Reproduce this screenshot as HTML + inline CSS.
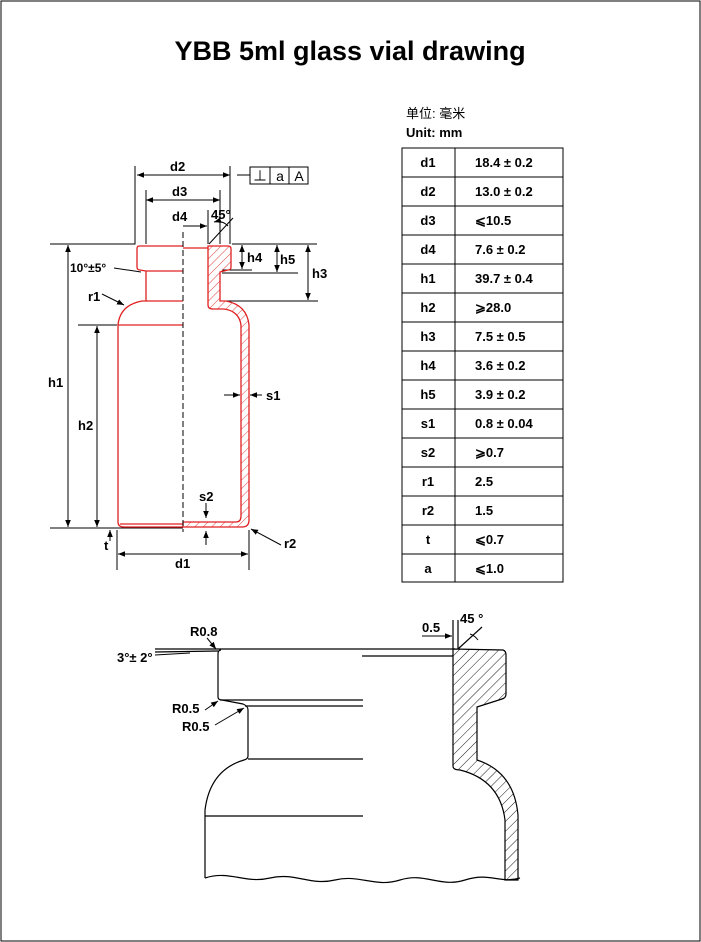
<!DOCTYPE html>
<html><head><meta charset="utf-8"><style>
body{margin:0;background:#fff;}
svg{display:block;font-family:"Liberation Sans","Noto Sans CJK SC",sans-serif;}
</style></head><body>
<svg width="701" height="942" viewBox="0 0 701 942" xmlns="http://www.w3.org/2000/svg">
<defs>
<pattern id="hr" width="6" height="6" patternUnits="userSpaceOnUse" patternTransform="rotate(45)"><line x1="0" y1="0" x2="0" y2="6" stroke="#d33" stroke-width="0.9"/></pattern>
<pattern id="hk" width="7" height="7" patternUnits="userSpaceOnUse" patternTransform="rotate(45)"><line x1="0" y1="0" x2="0" y2="7" stroke="#000" stroke-width="0.9"/></pattern>
<marker id="a" viewBox="0 0 10 10" refX="10" refY="5" markerWidth="7" markerHeight="7" orient="auto-start-reverse"><path d="M0,1 L10,5 L0,9 z" fill="#000"/></marker>
</defs>
<rect x="1" y="1" width="699" height="940" fill="none" stroke="#000" stroke-width="1"/>
<text x="350" y="60" font-size="27" font-weight="bold" text-anchor="middle">YBB 5ml glass vial drawing</text>
<text x="406" y="118" font-size="13">单位: 毫米</text>
<text x="406" y="137" font-size="13" font-weight="bold">Unit: mm</text>

<!-- table -->
<g font-size="13" font-weight="bold" stroke="#000">
<rect x="402" y="148" width="161" height="434" fill="none"/>
<line x1="455" y1="148" x2="455" y2="582"/>
</g>
<g stroke="#000">
<line x1="402" y1="177" x2="563" y2="177"/><line x1="402" y1="206" x2="563" y2="206"/><line x1="402" y1="235" x2="563" y2="235"/><line x1="402" y1="264" x2="563" y2="264"/><line x1="402" y1="293" x2="563" y2="293"/><line x1="402" y1="322" x2="563" y2="322"/><line x1="402" y1="351" x2="563" y2="351"/><line x1="402" y1="380" x2="563" y2="380"/><line x1="402" y1="409" x2="563" y2="409"/><line x1="402" y1="438" x2="563" y2="438"/><line x1="402" y1="467" x2="563" y2="467"/><line x1="402" y1="496" x2="563" y2="496"/><line x1="402" y1="525" x2="563" y2="525"/><line x1="402" y1="554" x2="563" y2="554"/>
</g>
<g font-size="13" font-weight="bold">
<g text-anchor="middle">
<text x="428" y="167">d1</text><text x="428" y="196">d2</text><text x="428" y="225">d3</text><text x="428" y="254">d4</text><text x="428" y="283">h1</text><text x="428" y="312">h2</text><text x="428" y="341">h3</text><text x="428" y="370">h4</text><text x="428" y="399">h5</text><text x="428" y="428">s1</text><text x="428" y="457">s2</text><text x="428" y="486">r1</text><text x="428" y="515">r2</text><text x="428" y="544">t</text><text x="428" y="573">a</text>
</g>
<text x="475" y="167">18.4 ± 0.2</text><text x="475" y="196">13.0 ± 0.2</text><text x="475" y="225">⩽10.5</text><text x="475" y="254">7.6 ± 0.2</text><text x="475" y="283">39.7 ± 0.4</text><text x="475" y="312">⩾28.0</text><text x="475" y="341">7.5 ± 0.5</text><text x="475" y="370">3.6 ± 0.2</text><text x="475" y="399">3.9 ± 0.2</text><text x="475" y="428">0.8 ± 0.04</text><text x="475" y="457">⩾0.7</text><text x="475" y="486">2.5</text><text x="475" y="515">1.5</text><text x="475" y="544">⩽0.7</text><text x="475" y="573">⩽1.0</text>
</g>

<!-- top vial -->
<g fill="none" stroke="#000" stroke-width="1">
<polyline points="50,244 135,244 135,166"/>
<line x1="232" y1="244" x2="317" y2="244"/>
<line x1="230" y1="166" x2="230" y2="244"/>
<line x1="146" y1="190" x2="146" y2="244"/>
<line x1="220" y1="190" x2="220" y2="244"/>
<line x1="208" y1="210" x2="208" y2="244"/>
<line x1="50" y1="528" x2="183" y2="528"/>
<line x1="78" y1="325" x2="117" y2="325"/>
<line x1="222" y1="270" x2="252" y2="270"/>
<line x1="222" y1="273" x2="298" y2="273"/>
<line x1="222" y1="301" x2="318" y2="301"/>
<line x1="117" y1="530" x2="117" y2="570"/>
<line x1="249" y1="530" x2="249" y2="570"/>
<line x1="209" y1="244" x2="233" y2="218"/>
<line x1="237" y1="175" x2="250" y2="175"/>
</g>
<g stroke="#000" stroke-width="1" fill="none">
<line x1="137" y1="175" x2="230" y2="175" marker-start="url(#a)" marker-end="url(#a)"/>
<line x1="146" y1="200" x2="220" y2="200" marker-start="url(#a)" marker-end="url(#a)"/>
<line x1="183" y1="226" x2="207" y2="226" marker-end="url(#a)"/>
<line x1="68" y1="245" x2="68" y2="527" marker-start="url(#a)" marker-end="url(#a)"/>
<line x1="97" y1="326" x2="97" y2="527" marker-start="url(#a)" marker-end="url(#a)"/>
<line x1="242" y1="245" x2="242" y2="269" marker-start="url(#a)" marker-end="url(#a)"/>
<line x1="277" y1="245" x2="277" y2="272" marker-start="url(#a)" marker-end="url(#a)"/>
<line x1="308" y1="245" x2="308" y2="300" marker-start="url(#a)" marker-end="url(#a)"/>
<line x1="118" y1="554" x2="248" y2="554" marker-start="url(#a)" marker-end="url(#a)"/>
<line x1="224" y1="395" x2="240" y2="395" marker-end="url(#a)"/>
<line x1="262" y1="395" x2="250" y2="395" marker-end="url(#a)"/>
<line x1="206" y1="503" x2="206" y2="518" marker-end="url(#a)"/>
<line x1="206" y1="545" x2="206" y2="531" marker-end="url(#a)"/>
<line x1="110" y1="541" x2="110" y2="530" marker-end="url(#a)"/>
<line x1="102" y1="294" x2="124" y2="305" marker-end="url(#a)"/>
<line x1="281" y1="545" x2="251" y2="529" marker-end="url(#a)"/>
<line x1="114" y1="268" x2="141" y2="272"/>
<path d="M214,222 A14,14 0 0 1 228,226" marker-start="url(#a)"/>
</g>
<!-- vial outline red -->
<g fill="none" stroke="#e02020" stroke-width="1.3">
<path d="M183,246 L139,246 Q137,246 137,249 L137,267 Q137,270 140,270 L146,271 L146,301 L142,301 Q120,305 118,325 L118,522 Q118,527 124,527 L183,527"/>
<line x1="183" y1="271" x2="146" y2="271"/>
<line x1="183" y1="301" x2="146" y2="301"/>
<line x1="183" y1="325" x2="118" y2="325"/>
<line x1="183" y1="524" x2="120" y2="524"/>
<line x1="183" y1="248" x2="208" y2="248"/>
</g>
<path d="M208,246 L228,246 Q231,246 231,249 L231,267 Q231,270 228,270 L220,272 L220,301 L226,301 Q247,305 249,325 L249,520 Q249,527 242,527 L183,527 L183,522 L236,522 Q241,522 241,516 L241,325 Q239,311 224,309 L213,309 Q208,309 208,305 Z" fill="url(#hr)" stroke="#e02020" stroke-width="1.3"/>
<line x1="183" y1="232" x2="183" y2="532" stroke="#000" stroke-dasharray="6,3"/>
<g font-size="13" font-weight="bold">
<text x="170" y="171">d2</text><text x="172" y="196">d3</text><text x="172" y="221">d4</text><text x="211" y="219">45°</text>
<text x="247" y="262">h4</text><text x="280" y="264">h5</text><text x="312" y="278">h3</text>
<text x="70" y="272" font-size="12">10°±5°</text>
<text x="88" y="301">r1</text><text x="48" y="387">h1</text><text x="78" y="430">h2</text>
<text x="266" y="400">s1</text><text x="199" y="501">s2</text><text x="104" y="550">t</text>
<text x="284" y="548">r2</text><text x="175" y="568">d1</text>
</g>
<g stroke="#000" fill="none"><rect x="250" y="167" width="58" height="17"/><line x1="270" y1="167" x2="270" y2="184"/><line x1="289" y1="167" x2="289" y2="184"/></g>
<g font-size="14" text-anchor="middle"><text x="260" y="181">⊥</text><text x="280" y="181">a</text><text x="299" y="181">A</text></g>

<!-- bottom drawing -->
<g fill="none" stroke="#000" stroke-width="1.2">
<line x1="155" y1="649" x2="455" y2="649"/>
<line x1="155" y1="652" x2="218" y2="651"/>
<path d="M221,650 Q218,650 218,654 L218,697 Q218,700 222,700 L243,704 Q248,706 248,710 L248,756 Q248,759 244,760 Q210,770 205,810 L205,878"/>
<line x1="220" y1="700" x2="363" y2="700"/>
<line x1="245" y1="706" x2="363" y2="706"/>
<line x1="248" y1="759" x2="363" y2="759"/>
<line x1="205" y1="816" x2="363" y2="816"/>
<line x1="362" y1="656" x2="453" y2="656"/>
<path d="M205,878 C230,870 245,884 270,878 C295,872 310,886 335,880 C360,874 375,888 400,880 C425,872 440,888 465,880 C490,872 500,884 520,878"/>
<line x1="453" y1="620" x2="453" y2="649"/>
<line x1="458" y1="620" x2="458" y2="649"/>
<line x1="458" y1="649" x2="482" y2="627"/>
</g>
<path d="M453,649 L503,650 Q506,651 506,655 L506,694 Q506,698 502,699 L477,707 L477,760 Q514,772 518,815 L518,880 L505,880 L505,820 Q500,780 460,770 Q453,770 453,766 Z" fill="url(#hk)" stroke="#000" stroke-width="1.2"/>
<g stroke="#000" fill="none" stroke-width="1">
<line x1="422" y1="636" x2="452" y2="636" marker-end="url(#a)"/>
<line x1="207" y1="638" x2="216" y2="649" marker-end="url(#a)"/>
<line x1="205" y1="710" x2="218" y2="701" marker-end="url(#a)"/>
<line x1="215" y1="725" x2="244" y2="708" marker-end="url(#a)"/>
<path d="M470,634 A16,16 0 0 1 478,640"/>
<line x1="155" y1="655" x2="190" y2="653"/>
</g>
<g font-size="13" font-weight="bold">
<text x="190" y="636">R0.8</text>
<text x="117" y="662">3°± 2°</text>
<text x="172" y="713">R0.5</text>
<text x="182" y="731">R0.5</text>
<text x="422" y="632">0.5</text>
<text x="460" y="623">45 °</text>
</g>
</svg>
</body></html>
